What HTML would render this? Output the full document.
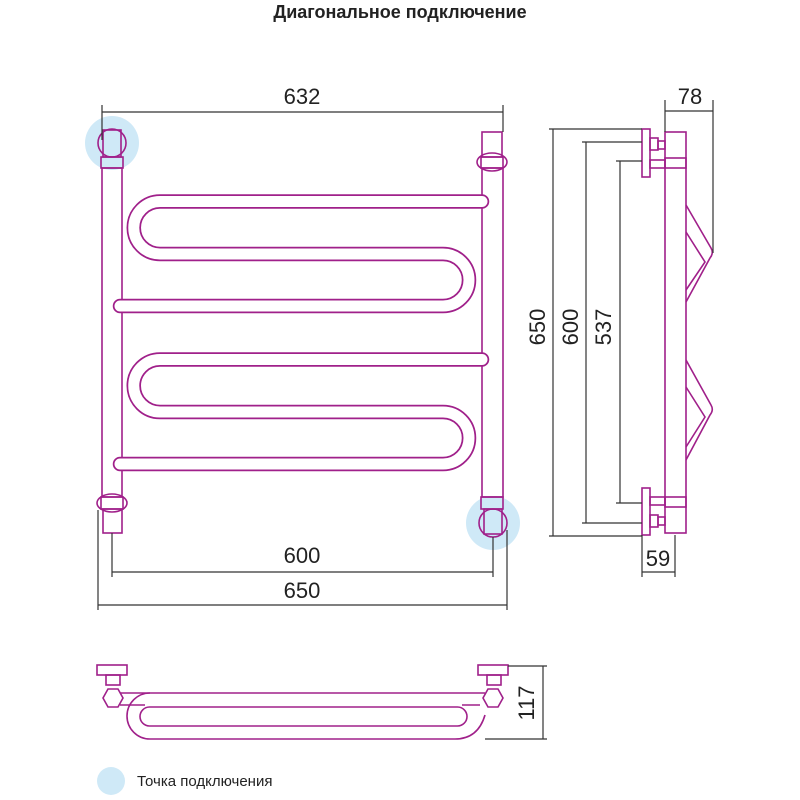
<!DOCTYPE html>
<html><head><meta charset="utf-8"><style>body{margin:0;background:#fff}svg{display:block}</style></head><body>
<svg width="800" height="800" viewBox="0 0 800 800" xmlns="http://www.w3.org/2000/svg" font-family="Liberation Sans, sans-serif">
<rect width="800" height="800" fill="#fff"/>
<text x="400" y="18" text-anchor="middle" font-size="18" font-weight="bold" fill="#222">Диагональное подключение</text>
<circle cx="112" cy="143" r="27" fill="#cfe9f7"/>
<circle cx="493" cy="523" r="27" fill="#cfe9f7"/>
<g fill="none" stroke="#a0208a" stroke-width="1.6">
<rect x="102" y="168" width="20" height="329"/>
<rect x="101" y="157" width="22" height="11"/>
<circle cx="112" cy="143" r="14"/>
<rect x="103" y="130" width="18" height="27"/>
<rect x="101" y="497" width="22" height="12"/>
<ellipse cx="112" cy="503" rx="15" ry="9"/>
<rect x="103" y="509" width="19" height="24"/>
<rect x="482" y="168" width="21" height="329"/>
<rect x="482" y="132" width="20" height="25"/>
<rect x="481" y="157" width="22" height="11"/>
<ellipse cx="492" cy="162" rx="15" ry="9"/>
<rect x="481" y="497" width="22" height="12"/>
<circle cx="493" cy="523" r="14"/>
<rect x="484" y="509" width="18" height="25"/>
</g>
<g fill="none" stroke-linecap="round">
<path d="M482 201.5 H160 A26.25 26.25 0 0 0 160 254 H443 A26 26 0 0 1 443 306 H120" stroke="#a0208a" stroke-width="14.5"/>
<path d="M482 201.5 H160 A26.25 26.25 0 0 0 160 254 H443 A26 26 0 0 1 443 306 H120" stroke="#fff" stroke-width="11"/>
<path d="M482 359.5 H160 A26.25 26.25 0 0 0 160 412 H443 A26 26 0 0 1 443 464 H120" stroke="#a0208a" stroke-width="14.5"/>
<path d="M482 359.5 H160 A26.25 26.25 0 0 0 160 412 H443 A26 26 0 0 1 443 464 H120" stroke="#fff" stroke-width="11"/>
</g>
<g stroke="#333" stroke-width="1.2" fill="none">
<path d="M102 105 V140 M503 105 V132 M102 112 H503"/>
<path d="M98 510 V610 M507 530 V610 M112 533 V577 M493 537 V577 M112 572 H493 M98 605 H507"/>
</g>
<g font-size="22" fill="#222" text-anchor="middle">
<text x="302" y="104">632</text>
<text x="302" y="563">600</text>
<text x="302" y="598">650</text>
</g>
<g fill="none" stroke="#a0208a" stroke-width="1.6">
<rect x="665" y="132" width="21" height="401"/>
<rect x="665" y="158" width="21" height="10"/>
<rect x="665" y="497" width="21" height="10"/>
<rect x="642" y="129" width="8" height="48"/>
<rect x="642" y="488" width="8" height="47"/>
<rect x="650" y="138" width="8" height="12"/><rect x="658" y="141" width="7" height="8"/>
<rect x="650" y="160" width="15" height="8"/>
<rect x="650" y="497" width="15" height="8"/>
<rect x="650" y="515" width="8" height="12"/><rect x="658" y="517" width="7" height="8"/>
<path d="M686 205 L711 248 Q714 253 710 258 L686 302 M686 232 L705 262 L686 290"/>
<path d="M686 360 L711 405 Q714 410 710 415 L686 460 M686 387 L705 417 L686 447"/>
</g>
<g stroke="#333" stroke-width="1.2" fill="none">
<path d="M665 100 V132 M713 100 V253 M665 111 H713"/>
<path d="M553 129 V536 M549 129 H642 M549 536 H642"/>
<path d="M586 142 V523 M582 142 H642 M582 523 H642"/>
<path d="M620 161 V503 M616 161 H642 M616 503 H642"/>
<path d="M642 535 V577 M675 535 V577 M642 572 H675"/>
</g>
<g font-size="22" fill="#222" text-anchor="middle">
<text x="690" y="104">78</text>
<text x="658" y="566">59</text>
<text transform="translate(545,327) rotate(-90)">650</text>
<text transform="translate(578,327) rotate(-90)">600</text>
<text transform="translate(611,327) rotate(-90)">537</text>
<text transform="translate(534,703) rotate(-90)">117</text>
</g>
<g fill="none" stroke="#a0208a" stroke-width="1.6">
<path d="M485 693 H150 A23 23 0 0 0 150 739 H455 Q478 739 485 715"/>
<path d="M120 693 H150 M120 705 H145 M480 705 H462"/>
<rect x="140" y="707" width="327" height="19" rx="9.5"/>
<rect x="97" y="665" width="30" height="10"/>
<rect x="478" y="665" width="30" height="10"/>
<rect x="106" y="675" width="14" height="10"/>
<rect x="487" y="675" width="14" height="10"/>
<polygon points="103,698 108,689 118,689 123,698 118,707 108,707"/>
<polygon points="483,698 488,689 498,689 503,698 498,707 488,707"/>
</g>
<g stroke="#333" stroke-width="1.2"><path d="M508 666 H547 M485 739 H547 M543 666 V739" fill="none"/></g>
<circle cx="111" cy="781" r="14" fill="#cfe9f7"/>
<text x="137" y="786" font-size="15" fill="#222">Точка подключения</text>
</svg>
</body></html>
